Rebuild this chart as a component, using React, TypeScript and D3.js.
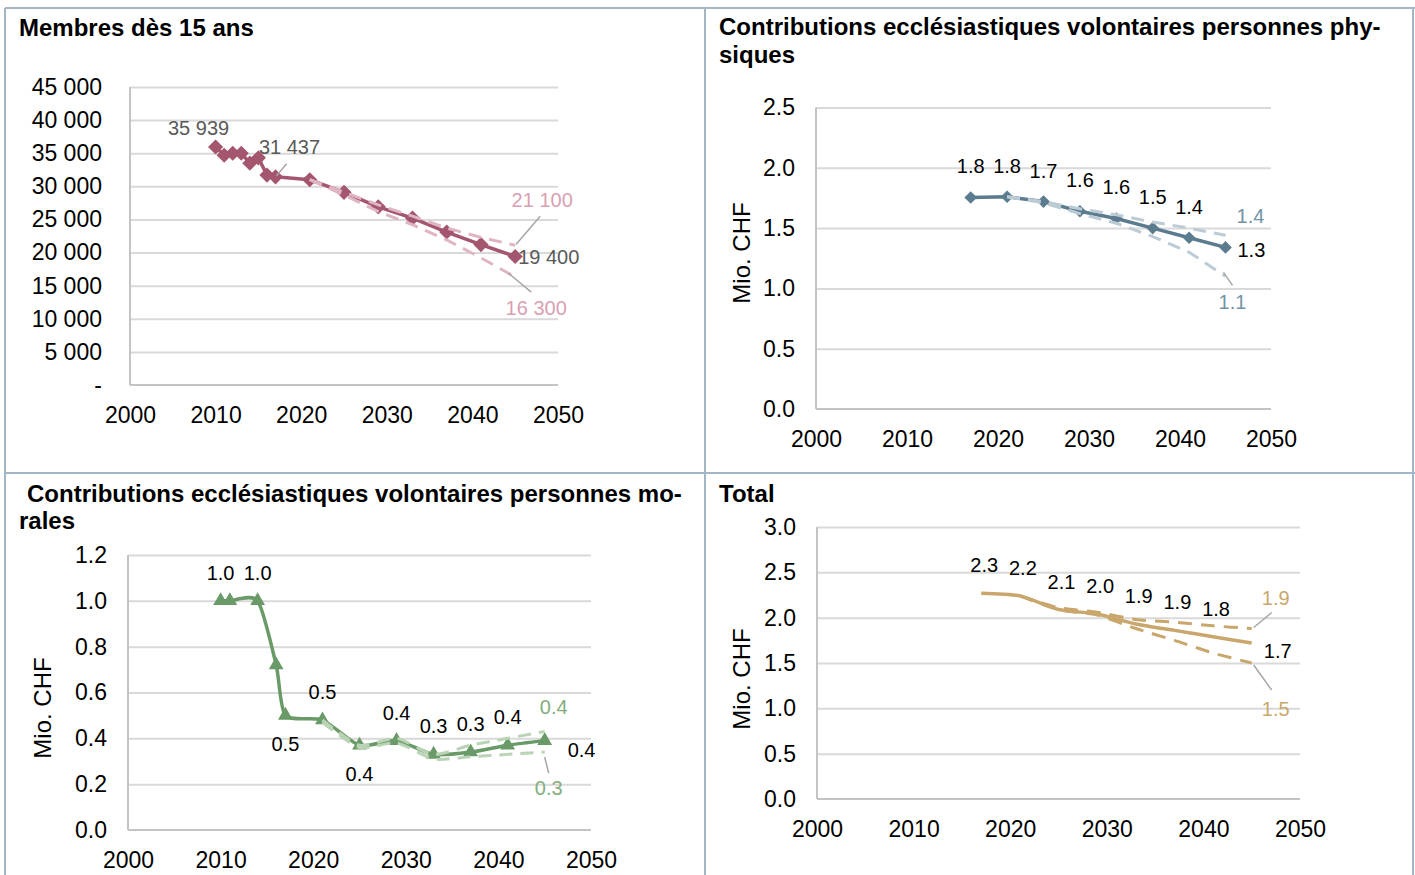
import * as d3 from 'd3';
import { useEffect, useRef } from 'react';

const FONT = "'Liberation Sans', Arial, sans-serif";

// shared x axis
const axisYears = [2000, 2010, 2020, 2030, 2040, 2050];
const axisYearLabels = ['2000', '2010', '2020', '2030', '2040', '2050'];
const scenarioYears = [2021, 2025, 2029, 2033, 2037, 2041, 2045];

// Membres dès 15 ans
const membersYears = [2010, 2011, 2012, 2013, 2014, 2015, 2016, 2017, 2021, 2025, 2029, 2033, 2037, 2041, 2045];
const membersValues = [35939, 34700, 35000, 35000, 33500, 34300, 31700, 31437, 31000, 29100, 26900, 25200, 23100, 21200, 19400];
const membersHigh = [31000, 29100, 27200, 25500, 23700, 22300, 21100];
const membersLow = [31000, 28700, 26200, 24200, 21900, 19200, 16300];
const membersTicks = [0, 5000, 10000, 15000, 20000, 25000, 30000, 35000, 40000, 45000];
const membersTickLabels = ['-', '5 000', '10 000', '15 000', '20 000', '25 000', '30 000', '35 000', '40 000', '45 000'];
const membersLabelPos = ['tl', '', '', '', '', '', '', 'lead', '', '', '', '', '', '', 'r'];

// Contributions personnes physiques
const physYears = [2017, 2021, 2025, 2029, 2033, 2037, 2041, 2045];
const physValues = [1.754, 1.76, 1.72, 1.64, 1.58, 1.5, 1.42, 1.34];
const physHigh = [1.76, 1.72, 1.66, 1.61, 1.55, 1.5, 1.44];
const physLow = [1.76, 1.71, 1.62, 1.54, 1.43, 1.3, 1.1];
const physTicks = [0, 0.5, 1, 1.5, 2, 2.5];
const physTickLabels = ['0.0', '0.5', '1.0', '1.5', '2.0', '2.5'];
const physLabelPos = ['a', 'a', 'a', 'a', 'a', 'a', 'a', 'r'];

// Contributions personnes morales
const moralYears = [2010, 2011, 2014, 2016, 2017, 2021, 2025, 2029, 2033, 2037, 2041, 2045];
const moralValues = [1.0, 1.0, 1.0, 0.72, 0.5, 0.48, 0.37, 0.39, 0.33, 0.34, 0.37, 0.39];
const moralHigh = [0.48, 0.37, 0.4, 0.33, 0.37, 0.4, 0.43];
const moralLow = [0.47, 0.36, 0.38, 0.31, 0.32, 0.33, 0.34];
const moralTicks = [0, 0.2, 0.4, 0.6, 0.8, 1.0, 1.2];
const moralTickLabels = ['0.0', '0.2', '0.4', '0.6', '0.8', '1.0', '1.2'];
const moralLabelPos = ['a', '', 'a', '', 'b', 'a', 'b', 'a', 'a', 'a', 'a', 'r'];

// Total
const totalYears = [2017, 2021, 2025, 2029, 2033, 2037, 2041, 2045];
const totalValues = [2.27, 2.24, 2.09, 2.04, 1.93, 1.86, 1.79, 1.72];
const totalHigh = [2.24, 2.11, 2.06, 1.98, 1.95, 1.91, 1.88];
const totalLow = [2.24, 2.09, 2.03, 1.88, 1.75, 1.61, 1.5];
const totalTicks = [0, 0.5, 1, 1.5, 2, 2.5, 3];
const totalTickLabels = ['0.0', '0.5', '1.0', '1.5', '2.0', '2.5', '3.0'];
const totalLabelPos = ['a', 'a', 'a', 'a', 'a', 'a', 'a', 'r'];

const spaced = d3.formatLocale({ decimal: '.', thousands: ' ', grouping: [3], currency: ['', ''] }).format(',');
const oneDec = d3.format('.1f');

function drawPanel(root: any, cfg: any) {
  const g = root.append('g');
  const x = d3.scaleLinear().domain([2000, 2050]).range([cfg.left, cfg.right]);
  const y = d3.scaleLinear().domain([0, cfg.yMax]).range([cfg.bottom, cfg.top]);

  // gridlines
  const grid = g
    .append('g')
    .attr('transform', `translate(${cfg.left},0)`)
    .call(d3.axisLeft(y).tickValues(cfg.yTicks.slice(1)).tickSize(-(cfg.right - cfg.left)).tickFormat(() => ''));
  grid.select('.domain').remove();
  grid.selectAll('line').attr('stroke', '#d9d9d9').attr('stroke-width', 2);

  // axis lines
  g.append('line').attr('x1', cfg.left).attr('x2', cfg.left).attr('y1', cfg.top).attr('y2', cfg.bottom)
    .attr('stroke', '#c4c4c4').attr('stroke-width', 2);
  g.append('line').attr('x1', cfg.left).attr('x2', cfg.right).attr('y1', cfg.bottom).attr('y2', cfg.bottom)
    .attr('stroke', '#c4c4c4').attr('stroke-width', 2);

  // tick labels
  const ya = g
    .append('g')
    .attr('transform', `translate(${cfg.left},0)`)
    .call(d3.axisLeft(y).tickValues(cfg.yTicks).tickFormat((_: any, i: number) => cfg.yLabels[i]).tickSize(0).tickPadding(cfg.yPad));
  ya.select('.domain').remove();
  ya.attr('font-family', FONT).attr('font-size', 23);
  ya.selectAll('text').attr('fill', '#000');

  const xa = g
    .append('g')
    .attr('transform', `translate(0,${cfg.bottom})`)
    .call(d3.axisBottom(x).tickValues(axisYears).tickFormat((_: any, i: number) => axisYearLabels[i]).tickSize(0).tickPadding(22));
  xa.select('.domain').remove();
  xa.attr('font-family', FONT).attr('font-size', 23);
  xa.selectAll('text').attr('fill', '#000');

  // titles
  cfg.title.forEach(([t, tx, ty]: [string, number, number]) => {
    g.append('text').text(t).attr('x', tx).attr('y', ty).attr('dy', '0.35em')
      .attr('font-family', FONT).attr('font-size', 24).attr('font-weight', 'bold').attr('fill', '#000');
  });
  if (cfg.yTitle) {
    g.append('text').text('Mio. CHF')
      .attr('transform', `translate(${cfg.yTitle[0]},${cfg.yTitle[1]}) rotate(-90)`)
      .attr('text-anchor', 'middle').attr('dy', '0.35em')
      .attr('font-family', FONT).attr('font-size', 24).attr('fill', '#000');
  }

  const line = d3.line<[number, number]>().x((d) => x(d[0])).y((d) => y(d[1])).curve(cfg.curve);
  const main = d3.zip(cfg.years, cfg.values) as [number, number][];

  g.append('path').datum(main).attr('d', line).attr('fill', 'none')
    .attr('stroke', cfg.color).attr('stroke-width', 3.5).attr('stroke-linejoin', 'round');

  if (cfg.marker) {
    g.selectAll('.mk').data(main).join('path')
      .attr('d', d3.symbol().type(cfg.marker === 'diamond' ? d3.symbolSquare : d3.symbolTriangle).size(cfg.markerSize)())
      .attr('transform', (d: any) => `translate(${x(d[0])},${y(d[1])})${cfg.marker === 'diamond' ? ' rotate(45)' : ''}`)
      .attr('fill', cfg.color);
  }

  // scenarios
  const hi = d3.zip(scenarioYears, cfg.high) as [number, number][];
  const lo = d3.zip(scenarioYears, cfg.low) as [number, number][];
  [hi, lo].forEach((s) => {
    g.append('path').datum(s).attr('d', line).attr('fill', 'none')
      .attr('stroke', cfg.dashColor).attr('stroke-width', 3).attr('stroke-dasharray', cfg.dash);
  });

  const lead = (px: number, py: number, l: number[]) => {
    g.append('line').attr('x1', px + l[0]).attr('y1', py + l[1]).attr('x2', px + l[2]).attr('y2', py + l[3])
      .attr('stroke', '#a6a6a6').attr('stroke-width', 1.5);
  };
  const label = (t: string, px: number, py: number, o: any, fill: string) => {
    if (o.lead) lead(px, py, o.lead);
    g.append('text').text(t).attr('x', px + o.dx).attr('y', py + o.dy).attr('dy', '0.35em')
      .attr('text-anchor', o.anchor || 'middle')
      .attr('font-family', FONT).attr('font-size', 20).attr('fill', fill);
  };

  main.forEach((d, i) => {
    const p = cfg.labelPos[i];
    if (!p) return;
    label(cfg.fmt(d[1]), x(d[0]), y(d[1]), cfg.offsets[p], cfg.labelColor);
  });
  const hEnd = hi[hi.length - 1];
  const lEnd = lo[lo.length - 1];
  label(cfg.fmt(hEnd[1]), x(hEnd[0]), y(hEnd[1]), cfg.offsets.hi, cfg.scenarioLabelColor);
  label(cfg.fmt(lEnd[1]), x(lEnd[0]), y(lEnd[1]), cfg.offsets.lo, cfg.scenarioLabelColor);
}

export default function App() {
  const ref = useRef<SVGSVGElement>(null);

  useEffect(() => {
    if (!ref.current) return;
    const svg = d3.select(ref.current);
    svg.selectAll('*').remove();

    // frame
    const border = '#a3b6c5';
    const frame = [
      [5, 8, 1415, 8],
      [5, 8, 5, 875],
      [705, 8, 705, 875],
      [5, 473, 1415, 473],
      [1413, 8, 1413, 875],
    ];
    svg.selectAll('.frame').data(frame).join('line')
      .attr('x1', (d) => d[0]).attr('y1', (d) => d[1]).attr('x2', (d) => d[2]).attr('y2', (d) => d[3])
      .attr('stroke', border).attr('stroke-width', 2);

    const smooth = d3.curveCardinal.tension(0.3);

    drawPanel(svg, {
      left: 130, right: 558, top: 87, bottom: 385, yMax: 45000,
      yTicks: membersTicks, yLabels: membersTickLabels, yPad: 28,
      title: [['Membres dès 15 ans', 19, 28]],
      years: membersYears, values: membersValues, high: membersHigh, low: membersLow,
      color: '#a5566f', dashColor: '#e0b5c3', dash: '13,8', curve: d3.curveLinear,
      marker: 'diamond', markerSize: 115,
      fmt: spaced, labelPos: membersLabelPos, labelColor: '#595959', scenarioLabelColor: '#d99fb3',
      offsets: {
        tl: { dx: -17, dy: -19 },
        lead: { dx: 14, dy: -30, lead: [1, -1, 11, -13] },
        r: { dx: 3, dy: 0, anchor: 'start' },
        hi: { dx: 27, dy: -45, lead: [1, -1, 25, -29] },
        lo: { dx: 21, dy: 31, lead: [-7, -4, 16, 15] },
      },
    });

    drawPanel(svg, {
      left: 816, right: 1271, top: 107.5, bottom: 409, yMax: 2.5,
      yTicks: physTicks, yLabels: physTickLabels, yPad: 21,
      title: [['Contributions ecclésiastiques volontaires personnes phy-', 719, 27], ['siques', 719, 55]],
      yTitle: [742, 253],
      years: physYears, values: physValues, high: physHigh, low: physLow,
      color: '#5b7b8f', dashColor: '#bccbd5', dash: '13,8', curve: d3.curveLinear,
      marker: 'diamond', markerSize: 80,
      fmt: oneDec, labelPos: physLabelPos, labelColor: '#000', scenarioLabelColor: '#7393a7',
      offsets: {
        a: { dx: 0, dy: -31 },
        r: { dx: 12, dy: 3, anchor: 'start' },
        hi: { dx: 25, dy: -19 },
        lo: { dx: 7, dy: 26, lead: [-2, -4, 7, 9] },
      },
    });

    drawPanel(svg, {
      left: 128, right: 591, top: 555, bottom: 830, yMax: 1.2,
      yTicks: moralTicks, yLabels: moralTickLabels, yPad: 21,
      title: [['Contributions ecclésiastiques volontaires personnes mo-', 27, 494], ['rales', 19, 521]],
      yTitle: [43, 708],
      years: moralYears, values: moralValues, high: moralHigh, low: moralLow,
      color: '#6a9a67', dashColor: '#b9d3b4', dash: '13,8', curve: smooth,
      marker: 'triangle', markerSize: 95,
      fmt: oneDec, labelPos: moralLabelPos, labelColor: '#000', scenarioLabelColor: '#82ae7d',
      offsets: {
        a: { dx: 0, dy: -28 },
        b: { dx: 0, dy: 29 },
        r: { dx: 23, dy: 9, anchor: 'start' },
        hi: { dx: 9, dy: -24 },
        lo: { dx: 4, dy: 36, lead: [0, 5, 4, 21] },
      },
    });

    drawPanel(svg, {
      left: 817, right: 1300, top: 527, bottom: 799, yMax: 3,
      yTicks: totalTicks, yLabels: totalTickLabels, yPad: 21,
      title: [['Total', 719, 494]],
      yTitle: [742, 679],
      years: totalYears, values: totalValues, high: totalHigh, low: totalLow,
      color: '#c9a76c', dashColor: '#c9a76c', dash: '14,9', curve: smooth,
      marker: null, markerSize: 0,
      fmt: oneDec, labelPos: totalLabelPos, labelColor: '#000', scenarioLabelColor: '#c9a76c',
      offsets: {
        a: { dx: 3, dy: -28 },
        r: { dx: 26, dy: 8 },
        hi: { dx: 24, dy: -31, lead: [2, -1, 20, -16] },
        lo: { dx: 24, dy: 46, lead: [2, 2, 20, 27] },
      },
    });
  }, []);

  return (
    <svg
      ref={ref}
      width={1415}
      height={875}
      style={{ position: 'absolute', left: 0, top: 0, background: '#fff' }}
    />
  );
}
